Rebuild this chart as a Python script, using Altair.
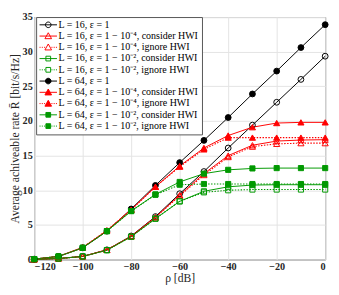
import altair as alt
import pandas as pd

rho = [-120, -110, -100, -90, -80, -70, -60, -50, -40, -30, -20, -10, 0]

names = [
    "L = 16, ε = 1",
    "L = 16, ε = 1 − 10⁻⁴, consider HWI",
    "L = 16, ε = 1 − 10⁻⁴, ignore HWI",
    "L = 16, ε = 1 − 10⁻², consider HWI",
    "L = 16, ε = 1 − 10⁻², ignore HWI",
    "L = 64, ε = 1",
    "L = 64, ε = 1 − 10⁻⁴, consider HWI",
    "L = 64, ε = 1 − 10⁻⁴, ignore HWI",
    "L = 64, ε = 1 − 10⁻², consider HWI",
    "L = 64, ε = 1 − 10⁻², ignore HWI",
]

L16_e1 = [0.03, 0.15, 0.45, 1.4, 3.4, 6.2, 9.5, 12.7, 16.1, 19.4, 22.7, 26.0, 29.35]
L16_e4_con = [0.03, 0.15, 0.45, 1.4, 3.35, 6.1, 9.3, 12.4, 15.0, 16.5, 17.1, 17.25, 17.3]
L16_e4_ign = [0.03, 0.15, 0.45, 1.4, 3.35, 6.1, 9.2, 12.2, 14.8, 16.3, 16.7, 16.8, 16.8]
L16_e2_con = [0.03, 0.15, 0.45, 1.35, 3.3, 5.9, 8.4, 9.85, 10.5, 10.75, 10.8, 10.8, 10.8]
L16_e2_ign = [0.03, 0.15, 0.45, 1.35, 3.3, 5.9, 8.4, 9.7, 10.0, 10.1, 10.1, 10.1, 10.1]
L64_e1 = [0.06, 0.45, 1.7, 4.1, 7.3, 10.7, 14.0, 17.2, 20.5, 23.9, 27.2, 30.6, 33.9]
L64_e4_con = [0.06, 0.45, 1.75, 4.2, 7.2, 10.5, 13.5, 16.1, 17.9, 19.1, 19.7, 19.8, 19.8]
L64_e4_ign = [0.06, 0.45, 1.75, 4.2, 7.2, 10.5, 13.4, 15.9, 17.6, 17.6, 17.6, 17.6, 17.6]
L64_e2_con = [0.06, 0.45, 1.7, 4.1, 7.0, 9.4, 11.2, 12.4, 12.95, 13.15, 13.2, 13.2, 13.2]
L64_e2_ign = [0.06, 0.45, 1.7, 4.1, 7.0, 9.35, 10.8, 10.9, 10.9, 10.9, 10.9, 10.9, 10.9]

values = [L16_e1, L16_e4_con, L16_e4_ign, L16_e2_con, L16_e2_ign,
          L64_e1, L64_e4_con, L64_e4_ign, L64_e2_con, L64_e2_ign]

BLACK, RED, GREEN = "#000000", "#ff0000", "#009900"
colors = [BLACK, RED, RED, GREEN, GREEN, BLACK, RED, RED, GREEN, GREEN]
filled = [False] * 5 + [True] * 5
shapes = ["circle", "triangle-up", "triangle-up", "square", "square"] * 2
dashes = ["solid", "solid", "dotted", "solid", "dotted"] * 2
msizes = {"circle": 36, "triangle-up": 40, "square": 28}

SOLID = "M-1,0H1"
DOT = "M-1,0H-0.88M-0.74,0H-0.62M-0.48,0H-0.36M0.36,0H0.48M0.62,0H0.74M0.88,0H1"
MARK = {
    "circle": "M0.32,0A0.32,0.32 0 1 1 -0.32,0A0.32,0.32 0 1 1 0.32,0Z",
    "triangle-up": "M0,-0.38L0.38,0.3L-0.38,0.3Z",
    "square": "M-0.27,-0.27H0.27V0.27H-0.27Z",
}
paths = [(SOLID if d == "solid" else DOT) + MARK[s] for s, d in zip(shapes, dashes)]
fills = [c if f else "transparent" for c, f in zip(colors, filled)]

rows = []
for i, name in enumerate(names):
    for xv, yv in zip(rho, values[i]):
        rows.append(dict(series=name, rho=xv, rate=yv, color=colors[i],
                         fill=fills[i], shape=shapes[i], dash=dashes[i],
                         msize=msizes[shapes[i]], idx=i))
df = pd.DataFrame(rows)

SERIF = "Liberation Serif"

xenc = alt.X("rho:Q", scale=alt.Scale(domain=[-120, 0], nice=False),
             axis=alt.Axis(values=list(range(-120, 1, 20)), title="ρ [dB]",
                           labelOverlap=False))
yenc = alt.Y("rate:Q", scale=alt.Scale(domain=[0, 35], nice=False),
             axis=alt.Axis(values=list(range(0, 36, 5)), labelOverlap=False,
                           title="Average achiveable rate R̄ [bit/s/Hz]"))

base = alt.Chart(df)

solid_lines = base.transform_filter("datum.dash == 'solid'").mark_line(strokeWidth=1).encode(
    xenc, yenc,
    stroke=alt.Stroke("color:N", scale=None),
    detail="series:N",
)
dotted_lines = base.transform_filter("datum.dash == 'dotted'").mark_line(
    strokeWidth=1.1, strokeDash=[1.5, 1.5]).encode(
    xenc, yenc,
    stroke=alt.Stroke("color:N", scale=None),
    detail="series:N",
)
points = base.mark_point(opacity=1, strokeWidth=1).encode(
    xenc, yenc,
    shape=alt.Shape("shape:N", scale=None),
    stroke=alt.Stroke("color:N", scale=None),
    fill=alt.Fill("fill:N", scale=None),
    size=alt.Size("msize:Q", scale=None),
)

leg = alt.Legend(
    title=None, orient="none", legendX=2, legendY=0,
    fillColor="white", strokeColor="#555555", padding=3, cornerRadius=0,
    labelFont=SERIF, labelFontSize=10.3, labelLimit=400, labelColor="#000000",
    labelOffset=1, symbolSize=324, symbolStrokeWidth=1, symbolOffset=0,
    clipHeight=10, rowPadding=0.6,
)
legend_layer = base.transform_filter("false").mark_point(opacity=1, strokeWidth=1).encode(
    xenc, yenc,
    shape=alt.Shape("series:N", scale=alt.Scale(domain=names, range=paths), legend=leg),
    stroke=alt.Stroke("series:N", scale=alt.Scale(domain=names, range=colors), legend=leg),
    fill=alt.Fill("series:N", scale=alt.Scale(domain=names, range=fills), legend=leg),
)

chart = alt.layer(solid_lines, dotted_lines, points, legend_layer).properties(
    width=300, height=250, padding=0,
).configure_view(
    stroke="#4d4d4d", strokeWidth=1,
).configure_axis(
    grid=True, gridColor="#e3e3e3", gridWidth=1, domain=False, ticks=False,
    labelFont=SERIF, labelFontWeight="bold", labelFontSize=10.5, labelColor="#262626",
    labelPadding=2, titleFont=SERIF, titleFontWeight="normal", titleColor="#262626",
).configure_axisX(
    titleFontSize=12, titlePadding=1,
).configure_axisY(
    titleFontSize=12, titlePadding=1,
)

chart.save("out.html", embed_options={"renderer": "svg", "actions": False})
